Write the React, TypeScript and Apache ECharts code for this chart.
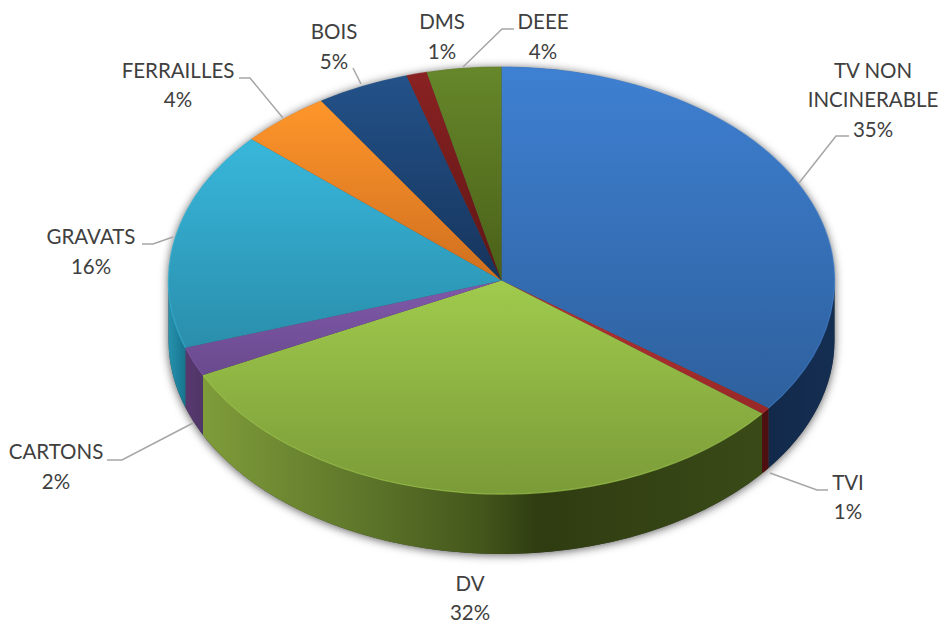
import React, { useEffect, useRef } from "react";
import * as echarts from "echarts";

const categories = ["TV NON\nINCINERABLE", "TVI", "DV", "CARTONS", "GRAVATS", "FERRAILLES", "BOIS", "DMS", "DEEE"];
const shares = [35.2, 0.5, 32.0, 2.2, 16.6, 4.4, 4.5, 1.0, 3.6];
const percentLabels = ["35%", "1%", "32%", "2%", "16%", "4%", "5%", "1%", "4%"];

const topLight = ["#3e80d2", "#b53232", "#a0cb4d", "#8059aa", "#38b7db", "#ff962b", "#235289", "#8a2222", "#66872a"];
const topDark = ["#2e609d", "#982828", "#7b9b38", "#6a4a8e", "#2a8eac", "#cf6f1f", "#16345c", "#5e1515", "#4a6018"];
const wallStops: [number, string][][] = [
  [[0, "#12294a"], [1, "#142e52"]],
  [[0, "#4d0f0f"], [1, "#4d0f0f"]],
  [[0, "#7f9c3a"], [0.3, "#5c7429"], [0.5, "#43561b"], [0.6, "#2f3c11"], [1, "#3a4a17"]],
  [[0, "#58396f"], [1, "#4f3568"]],
  [[0, "#2692ae"], [1, "#18748e"]],
  [[0, "#000"], [1, "#000"]],
  [[0, "#000"], [1, "#000"]],
  [[0, "#000"], [1, "#000"]],
  [[0, "#000"], [1, "#000"]],
];

const CX = 501.5;
const CY = 280.5;
const RX = 333;
const RY = 213.5;
const DEPTH = 60;

const labelCentres = [
  [873, 99], [848, 496.5], [470, 597.5], [56, 466], [91, 251], [178, 84.5], [334, 46], [442, 36], [543, 36],
];
const leaders: number[][][] = [
  [[799, 183], [836, 136], [849, 136]],
  [[770, 473], [817, 490], [828, 490]],
  [],
  [[193, 423], [122, 460], [107, 460]],
  [[173, 237], [153, 244], [142, 244]],
  [[283, 118], [250, 78], [239, 78]],
  [[361, 84], [353, 68]],
  [],
  [[463, 67], [502, 29], [514, 29]],
];

const total = shares.reduce((a, b) => a + b, 0);
const edges: number[] = [0];
shares.forEach((v, i) => edges.push(edges[i] + (v / total) * Math.PI * 2));

const pt = (t: number, dy = 0) => [CX + RX * Math.sin(t), CY - RY * Math.cos(t) + dy];
const arc = (to: number[], large: boolean, sweep: number) =>
  `A ${RX} ${RY} 0 ${large ? 1 : 0} ${sweep} ${to[0]} ${to[1]}`;
const vGrad = (a: string, b: string) => new echarts.graphic.LinearGradient(0, 0, 0, 1, [
  { offset: 0, color: a }, { offset: 1, color: b },
]);

function renderSlice(params: any) {
  const i = params.dataIndex;
  const a = edges[i];
  const b = edges[i + 1];
  const children: any[] = [];
  const wa = Math.max(a, Math.PI / 2);
  const wb = Math.min(b, (Math.PI * 3) / 2);
  if (wb > wa) {
    const p0 = pt(wa);
    const p1 = pt(wb);
    const q1 = pt(wb, DEPTH);
    const q0 = pt(wa, DEPTH);
    children.push({
      type: "path",
      shape: { pathData: `M ${p0[0]} ${p0[1]} ${arc(p1, false, 1)} L ${q1[0]} ${q1[1]} ${arc(q0, false, 0)} Z` },
      style: {
        fill: new echarts.graphic.LinearGradient(0, 0, 1, 0, wallStops[i].map(([offset, color]) => ({ offset, color }))),
      },
    });
  }
  const s = pt(a);
  const e = pt(b);
  const large = b - a > Math.PI;
  children.push({
    type: "path",
    shape: { pathData: `M ${CX} ${CY} L ${s[0]} ${s[1]} ${arc(e, large, 1)} Z` },
    style: { fill: vGrad(topLight[i], topDark[i]) },
  });
  children.push({
    type: "path",
    shape: { pathData: `M ${s[0]} ${s[1]} ${arc(e, large, 1)}` },
    style: { fill: "none", stroke: topLight[i], lineWidth: 1.2, opacity: 0.7 },
  });
  return { type: "group", children };
}

function renderBody() {
  const l = pt(-Math.PI / 2);
  const r = pt(Math.PI / 2);
  const rb = pt(Math.PI / 2, DEPTH);
  const lb = pt(-Math.PI / 2, DEPTH);
  return {
    type: "path",
    shape: { pathData: `M ${l[0]} ${l[1]} ${arc(r, false, 1)} L ${rb[0]} ${rb[1]} ${arc(lb, false, 1)} Z` },
    style: { fill: "#444", shadowBlur: 10, shadowColor: "rgba(0,0,0,0.65)", shadowOffsetX: 0, shadowOffsetY: 1 },
  };
}

function renderLabel(params: any) {
  const i = params.dataIndex;
  const children: any[] = [];
  if (leaders[i].length) {
    children.push({
      type: "polyline",
      shape: { points: leaders[i] },
      style: { fill: "none", stroke: "#a6a6a6", lineWidth: 1.5 },
    });
  }
  children.push({
    type: "text",
    x: labelCentres[i][0],
    y: labelCentres[i][1],
    style: {
      text: `${categories[i]}\n${percentLabels[i]}`,
      font: "20.5px Lato",
      lineHeight: 29.5,
      fill: "#404040",
      align: "center",
      verticalAlign: "middle",
    },
  });
  return { type: "group", children };
}

export default function App() {
  const ref = useRef<HTMLDivElement>(null);
  useEffect(() => {
    const chart = echarts.init(ref.current!, null, { renderer: "svg" });
    chart.setOption({
      animation: false,
      backgroundColor: "#ffffff",
      series: [
        { type: "custom", coordinateSystem: "none", z: 1, silent: true, data: [1], renderItem: renderBody },
        { type: "custom", coordinateSystem: "none", z: 2, silent: true, data: shares, renderItem: renderSlice },
        { type: "custom", coordinateSystem: "none", z: 3, silent: true, data: shares, renderItem: renderLabel },
      ],
    });
    return () => chart.dispose();
  }, []);
  return <div ref={ref} style={{ position: "fixed", left: 0, top: 0, width: 941, height: 623 }} />;
}
